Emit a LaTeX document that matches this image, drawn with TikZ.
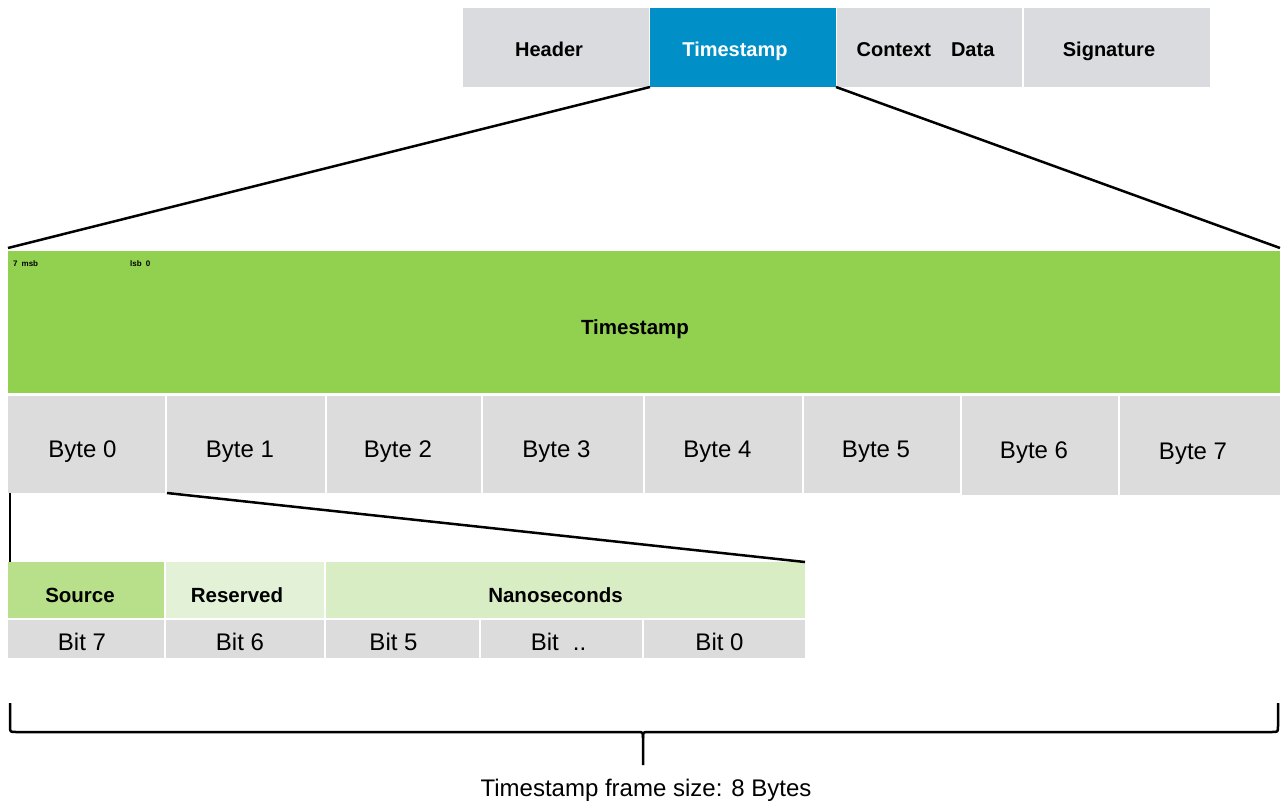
\documentclass[tikz,border=0pt]{standalone}
\usepackage{fontspec}
\setmainfont{Liberation Sans}
\definecolor{hdrgray}{HTML}{D9DBDE}
\definecolor{tsblue}{HTML}{008FC6}
\definecolor{bargreen}{HTML}{92D050}
\definecolor{cellgray}{HTML}{DCDCDC}
\definecolor{srcgreen}{HTML}{B8E08B}
\definecolor{resgreen}{HTML}{E3F2D6}
\definecolor{nsgreen}{HTML}{D8EDC3}
\tikzset{
  box/.style={rectangle, inner sep=0pt, outer sep=0pt, anchor=north west, draw=none, text depth=0pt},
  hdr/.style={box, fill=hdrgray, minimum height=79pt, text height=18.3pt, font=\fontsize{20}{24}\selectfont\bfseries},
  bytecell/.style={box, fill=cellgray, minimum height=97pt, text height=25.2pt, font=\fontsize{24}{28}\selectfont},
  fieldcell/.style={box, minimum height=56pt, text height=24.7pt, font=\fontsize{20.5}{24}\selectfont\bfseries},
  bitcell/.style={box, fill=cellgray, minimum height=38pt, text height=23.2pt, font=\fontsize{24}{28}\selectfont},
  conn/.style={draw=black, line width=2.5pt},
  tiny/.style={inner sep=0pt, anchor=base west, font=\fontsize{8}{9}\selectfont\bfseries}
}
\begin{document}
\begin{tikzpicture}[x=1pt, y=-1pt]
\useasboundingbox (0,0) rectangle (1284,803);
% top frame row
\node[hdr, minimum width=186pt] (hd) at (463,8) {Header\kern14pt};
\node[hdr, minimum width=186pt, fill=tsblue, text=white] (tsh) at (650,8) {Timestamp\kern16pt};
\node[hdr, minimum width=185pt] (ctx) at (837,8) {Context\kern20pt Data\kern8pt};
\node[hdr, minimum width=186pt] (sig) at (1024,8) {Signature\kern16pt};
% green timestamp bar
\node[box, fill=bargreen, minimum width=1272pt, minimum height=142pt, text height=24.7pt, font=\fontsize{20.5}{24}\selectfont\bfseries] (green) at (8,251) {Timestamp\kern18pt};
\node[tiny] (msb) at (13,266) {7\kern4pt msb};
\node[tiny] (lsb) at (130,266) {lsb\kern4pt 0};
% bytes
\node[bytecell, minimum width=157pt] (b0) at (8,396) {Byte 0\kern8pt};
\node[bytecell, minimum width=158pt] (b1) at (167,396) {Byte 1\kern12pt};
\node[bytecell, minimum width=154pt] (b2) at (327,396) {Byte 2\kern12pt};
\node[bytecell, minimum width=160pt] (b3) at (483,396) {Byte 3\kern13pt};
\node[bytecell, minimum width=157pt] (b4) at (645,396) {Byte 4\kern12pt};
\node[bytecell, minimum width=156pt] (b5) at (804,396) {Byte 5\kern12pt};
\node[bytecell, minimum width=156pt, minimum height=99pt] (b6) at (962,396) {Byte 6\kern12pt};
\node[bytecell, minimum width=160pt, minimum height=99pt, text height=27.2pt] (b7) at (1120,396) {Byte 7\kern14pt};
% bit fields
\node[fieldcell, fill=srcgreen, minimum width=156pt] (src) at (8,562) {Source\kern12pt};
\node[fieldcell, fill=resgreen, minimum width=158pt] (res) at (166,562) {Reserved\kern16pt};
\node[fieldcell, fill=nsgreen, minimum width=479pt] (ns) at (326,562) {Nanoseconds\kern20pt};
\node[bitcell, minimum width=156pt] (t7) at (8,620) {Bit 7\kern8pt};
\node[bitcell, minimum width=158pt] (t6) at (166,620) {Bit 6\kern10pt};
\node[bitcell, minimum width=153pt] (t5) at (326,620) {Bit 5\kern18pt};
\node[bitcell, minimum width=161pt] (tx) at (481,620) {Bit\kern14pt ..\kern6pt};
\node[bitcell, minimum width=161pt] (t0) at (644,620) {Bit 0\kern10pt};
% zoom connectors
\draw[conn] ([yshift=3pt]green.north west) -- (tsh.south west);
\draw[conn] (tsh.south east) -- ([yshift=3pt]green.north east);
\draw[conn] (b1.south west) -- (ns.north east);
\draw[conn] ([xshift=2pt]b0.south west) -- ([xshift=2pt]src.north west);
% brace
\coordinate (bl) at (10,703);
\coordinate (br) at (1278,703);
\coordinate (tip) at (643,765);
\draw[line width=2.5pt, line join=round]
  (bl) -- (10,726) .. controls (10,732) .. (16,732) -- (637,732)
  .. controls (643,732) .. (643,738) -- (tip);
\draw[line width=2.5pt, line join=round]
  (br) -- (1278,726) .. controls (1278,732) .. (1272,732) -- (649,732)
  .. controls (643,732) .. (643,738);
\node[font=\fontsize{24}{28}\selectfont, inner sep=0pt, text height=17.2pt, text depth=0pt] (cap) at (646,788) {Timestamp frame size: 8 Bytes};
\end{tikzpicture}
\end{document}
